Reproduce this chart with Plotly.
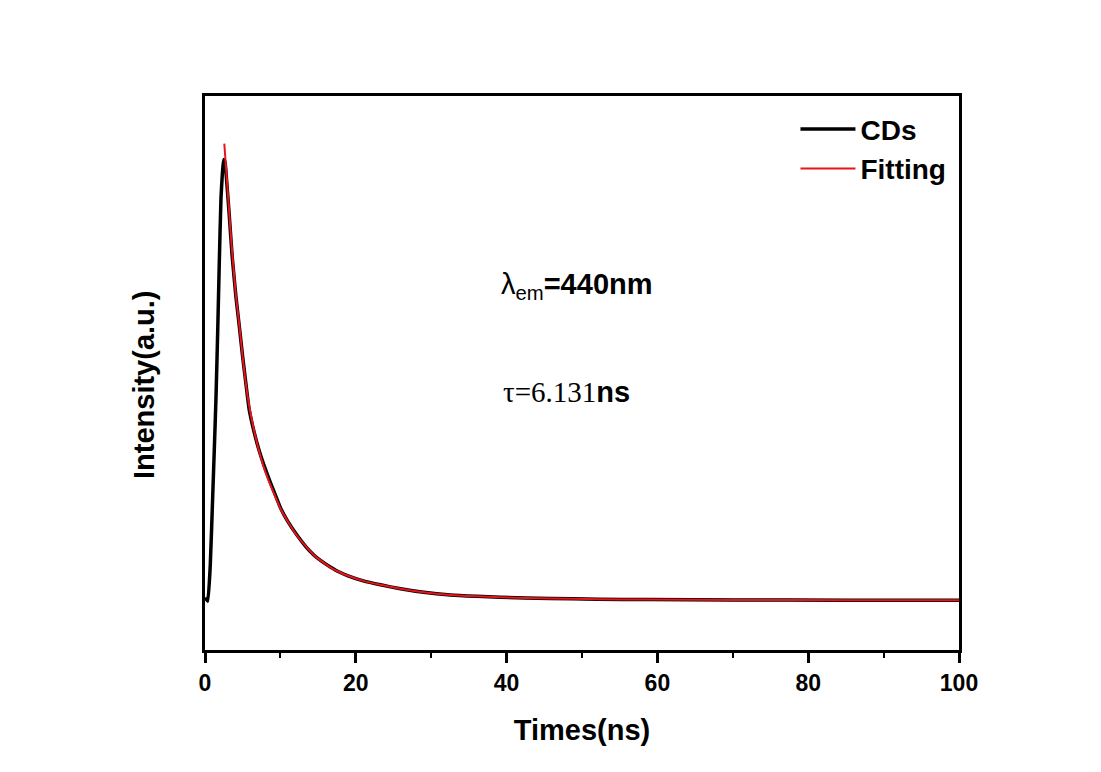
import plotly.graph_objects as go

# CDs decay data (time in ns, normalized intensity)
cds_t = [0.0, 0.36, 0.7, 1.02, 1.25, 1.46, 1.7, 1.89, 2.12, 2.3, 2.47, 2.65, 2.85, 3.21, 3.6, 4.1,
         4.54, 4.99, 5.4, 5.86, 6.5, 7.2, 7.84, 8.6, 9.39, 10.05, 11.0, 12.26, 13.4, 14.46, 15.5,
         16.67, 17.8, 18.88, 21.0, 23.28, 25.93, 29.0, 32.54, 36.0, 39.15, 45.77, 52.0, 58.99,
         70.0, 85.0, 100.0]
cds_i = [0.006, -0.002, 0.08, 0.235, 0.35, 0.46, 0.62, 0.761, 0.911, 0.965, 0.998, 0.993, 0.955,
         0.874, 0.78, 0.688, 0.622, 0.552, 0.494, 0.432, 0.382, 0.338, 0.305, 0.27, 0.236, 0.208,
         0.178, 0.146, 0.121, 0.102, 0.088, 0.075, 0.064, 0.056, 0.044, 0.035, 0.026, 0.018,
         0.012, 0.009, 0.007, 0.004, 0.0025, 0.0015, 0.0007, 0.0003, 0.0]

# Fitting curve
fit_t = [2.56, 3.0, 3.5, 4.1, 4.54, 5.0, 5.65, 6.5, 7.63, 8.5, 9.39, 10.05, 11.0, 12.26, 13.5,
         14.46, 15.5, 16.67, 17.8, 18.88, 21.0, 23.28, 25.93, 29.0, 32.54, 36.0, 39.15, 45.77,
         52.0, 58.99, 70.0, 85.0, 100.0]
fit_i = [1.034, 0.93, 0.81, 0.69, 0.625, 0.55, 0.462, 0.385, 0.31, 0.268, 0.232, 0.206, 0.178,
         0.145, 0.12, 0.102, 0.088, 0.074, 0.064, 0.056, 0.044, 0.035, 0.026, 0.018, 0.012,
         0.009, 0.007, 0.004, 0.0025, 0.0015, 0.0007, 0.0003, 0.0]

x_ticks = [0, 20, 40, 60, 80, 100]

FONT = "Liberation Sans, Arial, sans-serif"

fig = go.Figure()
fig.add_trace(go.Scatter(x=cds_t, y=cds_i, mode="lines", name="CDs",
                         line=dict(color="black", width=3.5, shape="spline", smoothing=0.4)))
fig.add_trace(go.Scatter(x=fit_t, y=fit_i, mode="lines", name="Fitting",
                         line=dict(color="#e8141b", width=2, shape="spline", smoothing=0.4)))

fig.update_layout(
    width=1101, height=772,
    paper_bgcolor="white", plot_bgcolor="white",
    margin=dict(l=197, r=150, t=88, b=130),
    font=dict(family=FONT, color="black"),
    showlegend=True,
    legend=dict(x=0.99, xanchor="right", y=0.985, yanchor="top",
                bgcolor="rgba(0,0,0,0)", itemwidth=55,
                font=dict(family=FONT, size=28, weight="bold", color="black"),
                tracegroupgap=0),
    xaxis=dict(range=[0, 100], tickvals=x_ticks, ticktext=[str(v) for v in x_ticks],
               showline=True, linecolor="black", linewidth=3, mirror=True,
               ticks="outside", ticklen=10, tickwidth=3, tickcolor="black",
               minor=dict(dtick=10, ticks="outside", ticklen=5, tickwidth=2, tickcolor="black"),
               showgrid=False, zeroline=False,
               tickfont=dict(family=FONT, size=23, weight="bold", color="black"),
               title=dict(text="Times(ns)", standoff=26,
                          font=dict(family=FONT, size=29, weight="bold", color="black"))),
    yaxis=dict(range=[-0.1126, 1.142], showline=True, linecolor="black", linewidth=3,
               mirror=True, ticks="", showticklabels=False, showgrid=False, zeroline=False),
)

# y-axis title as a rotated annotation (placed like the reference)
fig.add_annotation(x=-0.081, y=0.48, xref="paper", yref="paper", showarrow=False,
                   text="Intensity(a.u.)", textangle=-90, xanchor="center", yanchor="middle",
                   font=dict(family=FONT, size=29, weight="bold", color="black"))

fig.add_annotation(x=49.3, y=0.712, xref="x", yref="y", showarrow=False,
                   text="λ<sub>em</sub><b>=440nm</b>",
                   font=dict(family=FONT, size=29, color="black"))
fig.add_annotation(x=48.0, y=0.471, xref="x", yref="y", showarrow=False,
                   text="<span style='font-family:Liberation Serif, Times New Roman, serif'>τ=6.131</span><b>ns</b>",
                   font=dict(family=FONT, size=29, color="black"))

fig.write_html("out.html")
